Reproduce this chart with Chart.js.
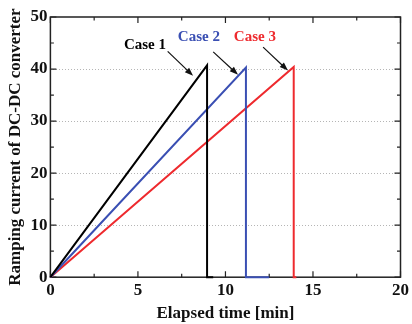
<!DOCTYPE html>
<html>
<head>
<meta charset="utf-8">
<script src="https://cdn.jsdelivr.net/npm/chart.js@4.4.1/dist/chart.umd.min.js"></script>
<style>
    html, body { margin: 0; padding: 0; background: #fff; overflow: hidden; }
    #wrap { width: 412px; height: 324px; }
</style>
</head>
<body>
<div id="wrap"><canvas id="js-ramp-chart"></canvas></div>
<script>
// Data (time in min, current in A)
const case1Time = [0, 8.95, 8.95, 9.3];
const case1Current = [0, 40.7, 0, 0];
const case2Time = [0, 11.17, 11.17, 12.5];
const case2Current = [0, 40.3, 0, 0];
const case3Time = [0, 13.9, 13.9, 14.05];
const case3Current = [0, 40.4, 0, 0];

const caseLabels = ["Case 1", "Case 2", "Case 3"];
const caseColors = ["#000000", "#3a4fb3", "#ee2a2e"];
// label anchor and arrow (from -> to) in data units
const labelPos = [[5.4, 44.6], [8.48, 46.2], [11.68, 46.2]];
const arrowFrom = [[6.7, 43.4], [9.3, 43.3], [12.15, 44.2]];
const arrowTo = [[8.15, 38.7], [10.72, 38.9], [13.57, 39.7]];

const xTicks = [0, 5, 10, 15, 20];
const yTicks = [0, 10, 20, 30, 40, 50];

const serif = "'Liberation Serif', 'DejaVu Serif', serif";

function toPoints(xs, ys) {
    return xs.map((x, i) => ({ x: x, y: ys[i] }));
}

// frame, inward ticks and the case labels with arrows
const framePlugin = {
    id: "frame",
    beforeDatasetsDraw(chart) {
        const { ctx, chartArea: a, scales } = chart;
        ctx.save();
        ctx.strokeStyle = "#222";
        ctx.lineWidth = 1.5;
        ctx.strokeRect(a.left, a.top, a.right - a.left, a.bottom - a.top);

        ctx.lineWidth = 1.2;
        for (let v = 0; v <= 20; v += 2.5) {
            const px = scales.x.getPixelForValue(v);
            const len = v % 5 === 0 ? 6 : 3.5;
            ctx.beginPath();
            ctx.moveTo(px, a.bottom); ctx.lineTo(px, a.bottom - len);
            ctx.moveTo(px, a.top); ctx.lineTo(px, a.top + len);
            ctx.stroke();
        }
        for (let v = 0; v <= 50; v += 5) {
            const py = scales.y.getPixelForValue(v);
            const len = v % 10 === 0 ? 6 : 3.5;
            ctx.beginPath();
            ctx.moveTo(a.left, py); ctx.lineTo(a.left + len, py);
            ctx.moveTo(a.right, py); ctx.lineTo(a.right - len, py);
            ctx.stroke();
        }
        ctx.restore();
    },
    afterDatasetsDraw(chart) {
        const { ctx, scales } = chart;
        ctx.save();
        ctx.font = "bold 15px " + serif;
        ctx.textAlign = "center";
        ctx.textBaseline = "middle";
        caseLabels.forEach((label, i) => {
            ctx.fillStyle = caseColors[i];
            ctx.fillText(label,
                scales.x.getPixelForValue(labelPos[i][0]),
                scales.y.getPixelForValue(labelPos[i][1]));

            const x1 = scales.x.getPixelForValue(arrowFrom[i][0]);
            const y1 = scales.y.getPixelForValue(arrowFrom[i][1]);
            const x2 = scales.x.getPixelForValue(arrowTo[i][0]);
            const y2 = scales.y.getPixelForValue(arrowTo[i][1]);
            const ang = Math.atan2(y2 - y1, x2 - x1);
            ctx.strokeStyle = "#111";
            ctx.fillStyle = "#111";
            ctx.lineWidth = 1.2;
            ctx.beginPath();
            ctx.moveTo(x1, y1);
            ctx.lineTo(x2 - 6 * Math.cos(ang), y2 - 6 * Math.sin(ang));
            ctx.stroke();
            ctx.beginPath();
            ctx.moveTo(x2, y2);
            ctx.lineTo(x2 - 9 * Math.cos(ang - 0.35), y2 - 9 * Math.sin(ang - 0.35));
            ctx.lineTo(x2 - 9 * Math.cos(ang + 0.35), y2 - 9 * Math.sin(ang + 0.35));
            ctx.closePath();
            ctx.fill();
        });
        ctx.restore();
    },
};

const chartData = {
    datasets: [
        { label: caseLabels[0], data: toPoints(case1Time, case1Current), borderColor: caseColors[0] },
        { label: caseLabels[1], data: toPoints(case2Time, case2Current), borderColor: caseColors[1] },
        { label: caseLabels[2], data: toPoints(case3Time, case3Current), borderColor: caseColors[2] },
    ].map((d) => Object.assign(d, {
        showLine: true,
        fill: false,
        borderWidth: 2,
        pointRadius: 0,
        tension: 0,
        clip: 4,
    })),
};

const chartOptions = {
    responsive: true,
    maintainAspectRatio: false,
    animation: false,
    layout: { padding: { top: 17, right: 0, left: 5, bottom: 0 } },
    plugins: {
        legend: { display: false },
        tooltip: { enabled: false },
    },
    scales: {
        x: {
            type: "linear",
            min: 0,
            max: 20,
            afterBuildTicks: (s) => { s.ticks = xTicks.map((v) => ({ value: v })); },
            grid: { display: false, drawTicks: false },
            border: { display: false },
            ticks: {
                color: "#111",
                padding: 3,
                maxRotation: 0,
                font: { family: serif, size: 17, weight: "bold" },
            },
            title: {
                display: true,
                text: "Elapsed time [min]",
                color: "#111",
                padding: { top: 0, bottom: 0 },
                font: { family: serif, size: 17, weight: "bold" },
            },
        },
        y: {
            type: "linear",
            min: 0,
            max: 50,
            afterBuildTicks: (s) => { s.ticks = yTicks.map((v) => ({ value: v })); },
            grid: {
                drawTicks: false,
                lineWidth: 1,
                color: (c) => (c.tick && c.tick.value % 50 === 0 ? "transparent" : "#b5b5b5"),
            },
            border: { display: false, dash: [1, 2] },
            ticks: {
                color: "#111",
                padding: 3,
                font: { family: serif, size: 17, weight: "bold" },
            },
            title: {
                display: true,
                text: "Ramping current of DC-DC converter",
                color: "#111",
                padding: { top: 0, bottom: 2 },
                font: { family: serif, size: 17, weight: "bold" },
            },
        },
    },
};

new Chart(document.getElementById("js-ramp-chart"), {
    type: "scatter",
    data: chartData,
    options: chartOptions,
    plugins: [framePlugin],
});
</script>
</body>
</html>
